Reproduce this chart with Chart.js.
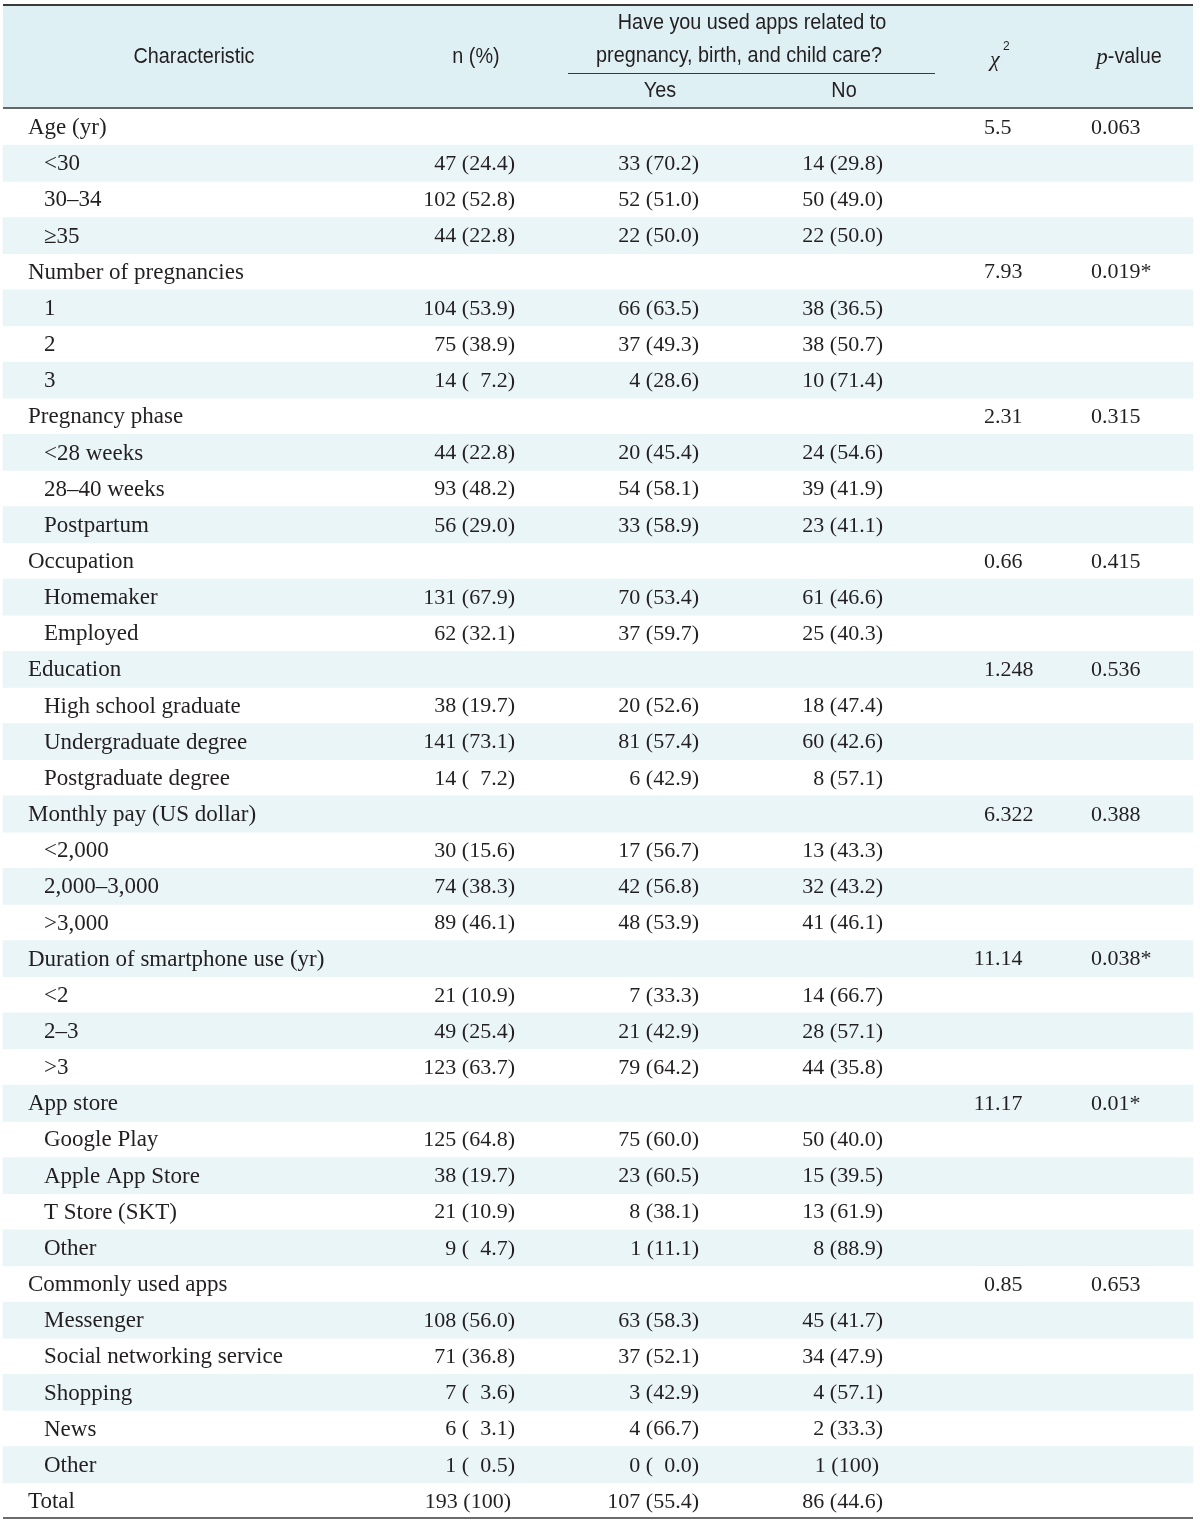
<!DOCTYPE html>
<html>
<head>
<meta charset="utf-8">
<title>App use by characteristic</title>
<script src="https://cdn.jsdelivr.net/npm/chart.js@4.4.0/dist/chart.umd.min.js"></script>
<style>
  html, body { margin: 0; padding: 0; background: #fff; }
  #wrap { width: 1200px; height: 1520px; }
</style>
</head>
<body>
<div id="wrap"><canvas id="table-chart" width="1200" height="1520"></canvas></div>
<script>
    "use strict";

    // Table rows (level 0 = group heading, level 1 = item)
    var characteristics = [
        "Age (yr)", "<30", "30\u201334", "\u226535",
        "Number of pregnancies", "1", "2", "3",
        "Pregnancy phase", "<28 weeks", "28\u201340 weeks", "Postpartum",
        "Occupation", "Homemaker", "Employed",
        "Education", "High school graduate", "Undergraduate degree", "Postgraduate degree",
        "Monthly pay (US dollar)", "<2,000", "2,000\u20133,000", ">3,000",
        "Duration of smartphone use (yr)", "<2", "2\u20133", ">3",
        "App store", "Google Play", "Apple App Store", "T Store (SKT)", "Other",
        "Commonly used apps", "Messenger", "Social networking service", "Shopping", "News", "Other",
        "Total"
    ];
    var levels = [0,1,1,1, 0,1,1,1, 0,1,1,1, 0,1,1, 0,1,1,1, 0,1,1,1, 0,1,1,1, 0,1,1,1,1, 0,1,1,1,1,1, 0];

    var nCount = [null,47,102,44, null,104,75,14, null,44,93,56, null,131,62, null,38,141,14, null,30,74,89, null,21,49,123, null,125,38,21,9, null,108,71,7,6,1, 193];
    var nPct   = [null,24.4,52.8,22.8, null,53.9,38.9,7.2, null,22.8,48.2,29.0, null,67.9,32.1, null,19.7,73.1,7.2, null,15.6,38.3,46.1, null,10.9,25.4,63.7, null,64.8,19.7,10.9,4.7, null,56.0,36.8,3.6,3.1,0.5, 100];
    var yesCount = [null,33,52,22, null,66,37,4, null,20,54,33, null,70,37, null,20,81,6, null,17,42,48, null,7,21,79, null,75,23,8,1, null,63,37,3,4,0, 107];
    var yesPct   = [null,70.2,51.0,50.0, null,63.5,49.3,28.6, null,45.4,58.1,58.9, null,53.4,59.7, null,52.6,57.4,42.9, null,56.7,56.8,53.9, null,33.3,42.9,64.2, null,60.0,60.5,38.1,11.1, null,58.3,52.1,42.9,66.7,0.0, 55.4];
    var noCount = [null,14,50,22, null,38,38,10, null,24,39,23, null,61,25, null,18,60,8, null,13,32,41, null,14,28,44, null,50,15,13,8, null,45,34,4,2,1, 86];
    var noPct   = [null,29.8,49.0,50.0, null,36.5,50.7,71.4, null,54.6,41.9,41.1, null,46.6,40.3, null,47.4,42.6,57.1, null,43.3,43.2,46.1, null,66.7,57.1,35.8, null,40.0,39.5,61.9,88.9, null,41.7,47.9,57.1,33.3,100, 44.6];
    var chiSq = ["5.5",null,null,null, "7.93",null,null,null, "2.31",null,null,null, "0.66",null,null, "1.248",null,null,null, "6.322",null,null,null, "11.14",null,null,null, "11.17",null,null,null,null, "0.85",null,null,null,null,null, null];
    var pValue = ["0.063",null,null,null, "0.019*",null,null,null, "0.315",null,null,null, "0.415",null,null, "0.536",null,null,null, "0.388",null,null,null, "0.038*",null,null,null, "0.01*",null,null,null,null, "0.653",null,null,null,null,null, null];

    // look
    var serif = '"Liberation Serif", "Times New Roman", serif';
    var sans = '"Liberation Sans", Arial, sans-serif';
    var ink = "#231f20";
    var ruleColor = "#3a3a3a";
    var headBg = "#dff0f4";
    var stripe = "#eaf5f8";
    var labelFont = "23px " + serif;
    var numFont = "22px " + serif;
    var headFont = "22px " + sans;
    var squeeze = 0.9;   // fake a condensed header face

    // column anchors on the x scale (0..1200)
    var col = { left: 3, right: 1193, label0: 28, label1: 44, n: 515, yes: 699, no: 883, chiDot: 995, p: 1091 };

    function pctText(v) {
        return v === 100 ? "100" : v.toFixed(1);
    }

    // "47 (24.4)" right-aligned, with a digit-wide pad for one-digit percents
    function drawCell(ctx, count, pct, right, y) {
        if (count === null) return;
        if (pct === 100) right -= 4;
        var tail = pctText(pct) + ")";
        ctx.textAlign = "right";
        ctx.fillText(tail, right, y);
        var pad = (pct < 10) ? ctx.measureText("0").width : 0;
        ctx.fillText(count + " (", right - ctx.measureText(tail).width - pad, y);
    }

    // condensed header text, centred on cx
    function headText(ctx, text, cx, y) {
        ctx.save();
        ctx.translate(cx, y);
        ctx.scale(squeeze, 1);
        ctx.textAlign = "center";
        ctx.fillText(text, 0, 0);
        ctx.restore();
    }

    var tablePlugin = {
        id: "tablePlugin",
        beforeDraw: function (chart) {
            var ctx = chart.ctx;
            var xs = chart.scales.x;
            var top = 6, bottom = chart.chartArea.top;
            ctx.save();
            ctx.fillStyle = headBg;
            ctx.fillRect(xs.getPixelForValue(col.left), top, xs.getPixelForValue(col.right) - xs.getPixelForValue(col.left), bottom - top);
            ctx.restore();
        },
        afterDatasetsDraw: function (chart) {
            var ctx = chart.ctx;
            var xs = chart.scales.x;
            var ys = chart.scales.y;
            var area = chart.chartArea;
            var L = xs.getPixelForValue(col.left), R = xs.getPixelForValue(col.right);
            ctx.save();

            // rules
            ctx.strokeStyle = ruleColor;
            ctx.lineWidth = 2;
            ctx.beginPath(); ctx.moveTo(L, 5); ctx.lineTo(R, 5); ctx.stroke();
            ctx.lineWidth = 1.5;
            ctx.beginPath(); ctx.moveTo(L, area.top - 1); ctx.lineTo(R, area.top - 1); ctx.stroke();
            ctx.beginPath(); ctx.moveTo(L, area.bottom - 1); ctx.lineTo(R, area.bottom - 1); ctx.stroke();
            ctx.lineWidth = 1;
            ctx.beginPath(); ctx.moveTo(xs.getPixelForValue(568), 73.5); ctx.lineTo(xs.getPixelForValue(935), 73.5); ctx.stroke();

            // header
            ctx.fillStyle = ink;
            ctx.textBaseline = "middle";
            ctx.font = headFont;
            headText(ctx, "Characteristic", xs.getPixelForValue(194), 57);
            headText(ctx, "n (%)", xs.getPixelForValue(476), 57);
            headText(ctx, "Have you used apps related to", xs.getPixelForValue(752), 23);
            headText(ctx, "pregnancy, birth, and child care?", xs.getPixelForValue(739), 56);
            headText(ctx, "Yes", xs.getPixelForValue(660), 91);
            headText(ctx, "No", xs.getPixelForValue(844), 91);

            // chi square
            ctx.font = "italic 22px " + serif;
            ctx.textAlign = "left";
            ctx.fillText("\u03c7", xs.getPixelForValue(990), 60);
            ctx.font = "12px " + sans;
            ctx.fillText("2", xs.getPixelForValue(1003), 47);

            // p-value
            ctx.font = "italic 23px " + serif;
            var pw = ctx.measureText("p").width;
            ctx.font = headFont;
            var vw = ctx.measureText("-value").width * squeeze;
            var px = xs.getPixelForValue(1129) - (pw + vw) / 2;
            ctx.font = "italic 23px " + serif;
            ctx.textAlign = "left";
            ctx.fillText("p", px, 58);
            ctx.font = headFont;
            headText(ctx, "-value", px + pw + vw / 2, 57);

            // body
            characteristics.forEach(function (label, i) {
                var y = ys.getPixelForValue(i) + 1;
                ctx.font = labelFont;
                ctx.textAlign = "left";
                ctx.fillText(label, xs.getPixelForValue(levels[i] ? col.label1 : col.label0), y);
                ctx.font = numFont;
                drawCell(ctx, nCount[i], nPct[i], xs.getPixelForValue(col.n), y);
                drawCell(ctx, yesCount[i], yesPct[i], xs.getPixelForValue(col.yes), y);
                drawCell(ctx, noCount[i], noPct[i], xs.getPixelForValue(col.no), y);
                if (chiSq[i] !== null) {
                    var intPart = chiSq[i].split(".")[0];
                    ctx.textAlign = "left";
                    ctx.fillText(chiSq[i], xs.getPixelForValue(col.chiDot) - ctx.measureText(intPart).width, y);
                }
                if (pValue[i] !== null) {
                    ctx.textAlign = "left";
                    ctx.fillText(pValue[i], xs.getPixelForValue(col.p), y);
                }
            });
            ctx.restore();
        }
    };

    // stripes: every second row is shaded, drawn as floating bars across the table
    var stripeBars = characteristics.map(function (_, i) {
        return i % 2 === 1 ? [col.left, col.right] : null;
    });

    var ctx1 = document.getElementById("table-chart").getContext("2d");
    var tableChart = new Chart(ctx1, {
        type: "bar",
        data: {
            labels: characteristics,
            datasets: [{
                label: "rows",
                data: stripeBars,
                backgroundColor: stripe,
                borderWidth: 0,
                barPercentage: 1,
                categoryPercentage: 1
            }]
        },
        options: {
            indexAxis: "y",
            responsive: false,
            maintainAspectRatio: false,
            animation: false,
            events: [],
            layout: { padding: { top: 109, bottom: 1, left: 0, right: 0 } },
            plugins: { legend: { display: false }, tooltip: { enabled: false } },
            scales: {
                x: { type: "linear", min: 0, max: 1200, display: false },
                y: { type: "category", display: false, offset: true }
            }
        },
        plugins: [tablePlugin]
    });
</script>
</body>
</html>
